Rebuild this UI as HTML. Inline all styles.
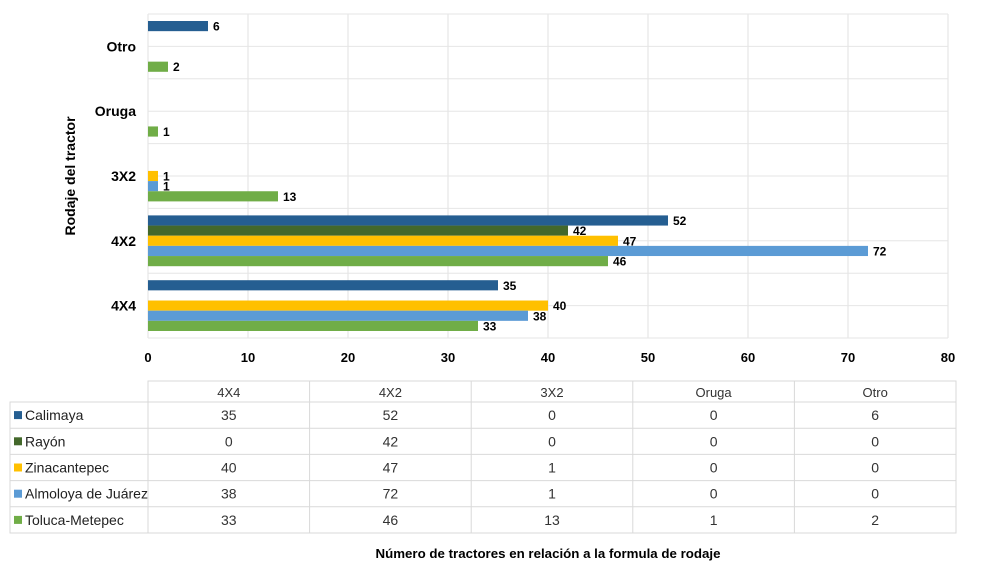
<!DOCTYPE html>
<html><head><meta charset="utf-8"><style>
body{margin:0;background:#fff;font-family:"Liberation Sans",sans-serif;}
svg text{font-family:"Liberation Sans",sans-serif;}
</style></head><body>
<svg id="chart" width="986" height="573" viewBox="0 0 986 573">
<g id="grid"></g><g id="bars"></g><g id="labels"></g><g id="table"></g>
<text x="75" y="176" transform="rotate(-90 75 176)" text-anchor="middle" font-size="14" font-weight="bold">Rodaje del tractor</text>
<text x="548" y="558" text-anchor="middle" font-size="13" font-weight="bold" textLength="345" lengthAdjust="spacingAndGlyphs">Número de tractores en relación a la formula de rodaje</text>
</svg>
<script>
const categories=["4X4","4X2","3X2","Oruga","Otro"];
const seriesNames=["Calimaya","Rayón","Zinacantepec","Almoloya de Juárez","Toluca-Metepec"];
const seriesColors=["#255e91","#43682b","#ffc000","#5b9bd5","#70ad47"];
const calimaya=[35,52,0,0,6];
const rayon=[0,42,0,0,0];
const zinacantepec=[40,47,1,0,0];
const almoloya=[38,72,1,0,0];
const toluca=[33,46,13,1,2];
const xTicks=[0,10,20,30,40,50,60,70,80];
const series=[calimaya,rayon,zinacantepec,almoloya,toluca];
const NS="http://www.w3.org/2000/svg";
const X0=148,X1=948,YT=14,YB=338,XMAX=80;
const band=(YB-YT)/categories.length;
const x=v=>X0+v/XMAX*(X1-X0);
const bandTop=i=>YB-(i+1)*band;
const barH=(band-14)/5;
function mk(tag,attrs,parent){const e=document.createElementNS(NS,tag);for(const k in attrs)e.setAttribute(k,attrs[k]);parent.appendChild(e);return e;}
const grid=document.getElementById('grid'),bars=document.getElementById('bars'),labels=document.getElementById('labels'),table=document.getElementById('table');
xTicks.forEach(t=>{
 const l=mk('line',{x1:x(t),x2:x(t),y1:YT,y2:YB,stroke:'#e0e0e0','stroke-width':1},grid);
 
 
 const tx=mk('text',{x:x(t),y:362,'text-anchor':'middle','font-size':13,'font-weight':'bold'},labels);
 tx.textContent=t;
 
 
});
for(let k=0;k<=categories.length*2;k++){
 const y=YT+k*band/2;
 const l=mk('line',{x1:X0,x2:X1,y1:y,y2:y,stroke:'#e6e6e6','stroke-width':1},grid);
 
 
}
categories.forEach((c,i)=>{
 const t=mk('text',{x:136,y:bandTop(i)+band/2+5,'text-anchor':'end','font-size':14,'font-weight':'bold'},labels);
 t.textContent=c;
 
 
 series.forEach((s,j)=>{
  const v=s[i];if(!v)return;
  const y=bandTop(i)+7+j*barH;
  const r=mk('rect',{x:X0,y:y,width:x(v)-X0,height:barH,fill:seriesColors[j]},bars);
  
  
  const lt=mk('text',{x:x(v)+5,y:y+barH/2+4.5,'font-size':12,'font-weight':'bold'},labels);
  lt.textContent=v;
  
  
 });
});
// data table
const TX0=10,TC=148,cw=161.6,HT=381,rh=26.2,HH=21;
const TR=TC+cw*categories.length;
const bottom=HT+HH+rh*5;
mk('rect',{x:TC,y:HT,width:TR-TC,height:HH,fill:'none',stroke:'#d9d9d9'},table);
mk('rect',{x:TX0,y:HT+HH,width:TR-TX0,height:rh*5,fill:'none',stroke:'#d9d9d9'},table);
for(let k=0;k<=categories.length;k++){mk('line',{x1:TC+k*cw,x2:TC+k*cw,y1:HT,y2:bottom,stroke:'#d9d9d9'},table);}
for(let r=1;r<5;r++){mk('line',{x1:TX0,x2:TR,y1:HT+HH+r*rh,y2:HT+HH+r*rh,stroke:'#d9d9d9'},table);}
categories.forEach((c,i)=>{
 const t=mk('text',{x:TC+i*cw+cw/2,y:HT+16,'text-anchor':'middle','font-size':13,fill:'#333'},table);
 t.textContent=c;
 
 
});
seriesNames.forEach((n,j)=>{
 const ry=HT+HH+j*rh;
 const sw=mk('rect',{x:14,y:ry+rh/2-4,width:8,height:8,fill:seriesColors[j]},table);
 
 
 const t=mk('text',{x:25,y:ry+rh/2+5,'font-size':14,fill:'#222'},table);
 t.textContent=n;
 
 
 series[j].forEach((v,i)=>{
  const c=mk('text',{x:TC+i*cw+cw/2,y:ry+rh/2+5,'text-anchor':'middle','font-size':14,fill:'#333'},table);
  c.textContent=v;
  
  
 });
});
</script>
</body></html>
